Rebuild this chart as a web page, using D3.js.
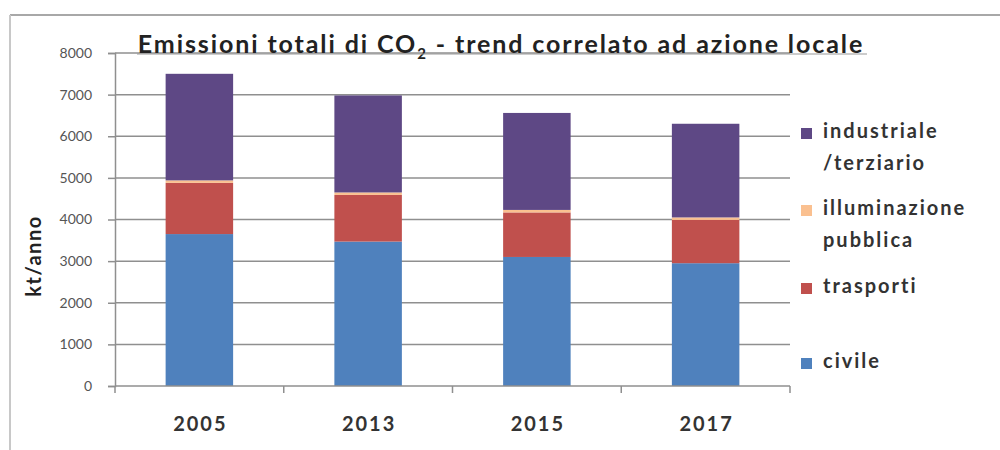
<!DOCTYPE html>
<html>
<head>
<meta charset="utf-8">
<script src="https://cdn.jsdelivr.net/npm/d3@7"></script>
<style>
  html, body { margin: 0; padding: 0; background: #fff; }
  svg { display: block; }
</style>
</head>
<body>
<svg id="chart" width="1000" height="450"></svg>
<script>
// Emission data (kt/anno) by year and sector
const years = ["2005", "2013", "2015", "2017"];
const civile = [3650, 3470, 3100, 2950];
const trasporti = [1230, 1120, 1070, 1040];
const illuminazione = [60, 60, 60, 60];
const industriale = [2560, 2330, 2330, 2250];
const yTicks = [0, 1000, 2000, 3000, 4000, 5000, 6000, 7000, 8000];

const seriesNames = ["civile", "trasporti", "illuminazione pubblica", "industriale /terziario"];
const seriesColors = ["#4F81BD", "#C0504D", "#FAC090", "#5E4885"];
const seriesValues = [civile, trasporti, illuminazione, industriale];

const svg = d3.select("#chart");
const font = "Lato, 'Open Sans', sans-serif";

// outer frame (top and left edges)
svg.append("line").attr("x1", 10).attr("x2", 1000).attr("y1", 15).attr("y2", 15)
  .attr("stroke", "#a8a8a8").attr("stroke-width", 2);
svg.append("line").attr("x1", 10).attr("x2", 10).attr("y1", 15).attr("y2", 450)
  .attr("stroke", "#c8c8c8").attr("stroke-width", 2);

const plot = { left: 115, right: 790, top: 53, bottom: 386 };

const x = d3.scaleBand().domain(years).range([plot.left, plot.right]).paddingInner(0.6).paddingOuter(0.3);
const xOuter = d3.scaleBand().domain(years).range([plot.left, plot.right]);
const y = d3.scaleLinear().domain([0, 8000]).range([plot.bottom, plot.top]);

// horizontal gridlines
svg.append("g").selectAll("line").data(yTicks.filter(d => d > 0)).join("line")
  .attr("x1", plot.left).attr("x2", plot.right)
  .attr("y1", d => y(d)).attr("y2", d => y(d))
  .attr("stroke", "#8f8f8f").attr("stroke-width", 1.5);

// stacked bars
const table = years.map((yr, i) => {
  const row = { year: yr };
  seriesNames.forEach((s, k) => { row[s] = seriesValues[k][i]; });
  return row;
});
const stacked = d3.stack().keys(seriesNames)(table);

svg.append("g").selectAll("g").data(stacked).join("g")
  .attr("fill", (d, k) => seriesColors[k])
  .selectAll("rect").data(d => d).join("rect")
  .attr("x", d => x(d.data.year))
  .attr("width", x.bandwidth())
  .attr("y", d => y(d[1]))
  .attr("height", d => y(d[0]) - y(d[1]));

// y axis
const yAxis = svg.append("g").attr("transform", `translate(${plot.left},0)`)
  .call(d3.axisLeft(y).tickValues(yTicks).tickSize(7).tickPadding(16).tickFormat(d3.format("d")));
yAxis.select(".domain").attr("stroke", "#8f8f8f").attr("stroke-width", 1.5);
yAxis.selectAll(".tick line").attr("stroke", "#8f8f8f").attr("stroke-width", 1.5);
yAxis.selectAll(".tick text").attr("font-family", font).attr("font-size", 14)
  .attr("fill", "#555");

// x axis (ticks at category boundaries)
const xAxisG = svg.append("g");
xAxisG.append("line").attr("x1", plot.left).attr("x2", plot.right)
  .attr("y1", plot.bottom).attr("y2", plot.bottom)
  .attr("stroke", "#8f8f8f").attr("stroke-width", 1.5);
const bounds = years.map(d => xOuter(d)).concat([xOuter(years[years.length - 1]) + xOuter.bandwidth()]);
xAxisG.selectAll("line.tk").data(bounds).join("line").attr("class", "tk")
  .attr("x1", d => d).attr("x2", d => d)
  .attr("y1", plot.bottom).attr("y2", plot.bottom + 7)
  .attr("stroke", "#8f8f8f").attr("stroke-width", 1.5);
xAxisG.selectAll("text").data(years).join("text")
  .attr("x", d => xOuter(d) + xOuter.bandwidth() / 2 + 1)
  .attr("y", 431)
  .attr("text-anchor", "middle")
  .attr("font-family", font).attr("font-size", 20).attr("font-weight", "bold")
  .attr("letter-spacing", 2)
  .attr("fill", "#333")
  .text(d => d);

// y axis title
svg.append("text")
  .attr("transform", "translate(41,256) rotate(-90)")
  .attr("text-anchor", "middle")
  .attr("font-family", font).attr("font-size", 20).attr("font-weight", "bold")
  .attr("letter-spacing", 1.5)
  .attr("fill", "#222")
  .text("kt/anno");

// chart title
const title = svg.append("text")
  .attr("x", 501).attr("y", 53)
  .attr("text-anchor", "middle")
  .attr("font-family", font).attr("font-size", 25).attr("font-weight", "bold")
  .attr("letter-spacing", 1.9)
  .attr("fill", "#222");
title.append("tspan").text("Emissioni  totali di CO");
title.append("tspan").attr("font-size", 15).attr("dy", 6).text("2");
title.append("tspan").attr("dy", -6).text(" - trend correlato ad azione locale");
svg.append("line").attr("x1", 137).attr("x2", 867).attr("y1", 54).attr("y2", 54)
  .attr("stroke", "#9a9a9a").attr("stroke-width", 1.2);

// legend
const legendItems = [
  { k: 3, lines: ["industriale", "/terziario"], y: 138 },
  { k: 2, lines: ["illuminazione", "pubblica"], y: 215 },
  { k: 1, lines: ["trasporti"], y: 293 },
  { k: 0, lines: ["civile"], y: 368 }
];
const legend = svg.append("g");
legendItems.forEach(item => {
  legend.append("rect")
    .attr("x", 801).attr("y", item.y - 10).attr("width", 11).attr("height", 11)
    .attr("fill", seriesColors[item.k]);
  item.lines.forEach((t, j) => {
    legend.append("text")
      .attr("x", 823).attr("y", item.y + j * 32)
      .attr("font-family", font).attr("font-size", 20).attr("font-weight", "bold")
      .attr("fill", "#333")
      .attr("letter-spacing", 2)
      .text(t);
  });
});
</script>
</body>
</html>
